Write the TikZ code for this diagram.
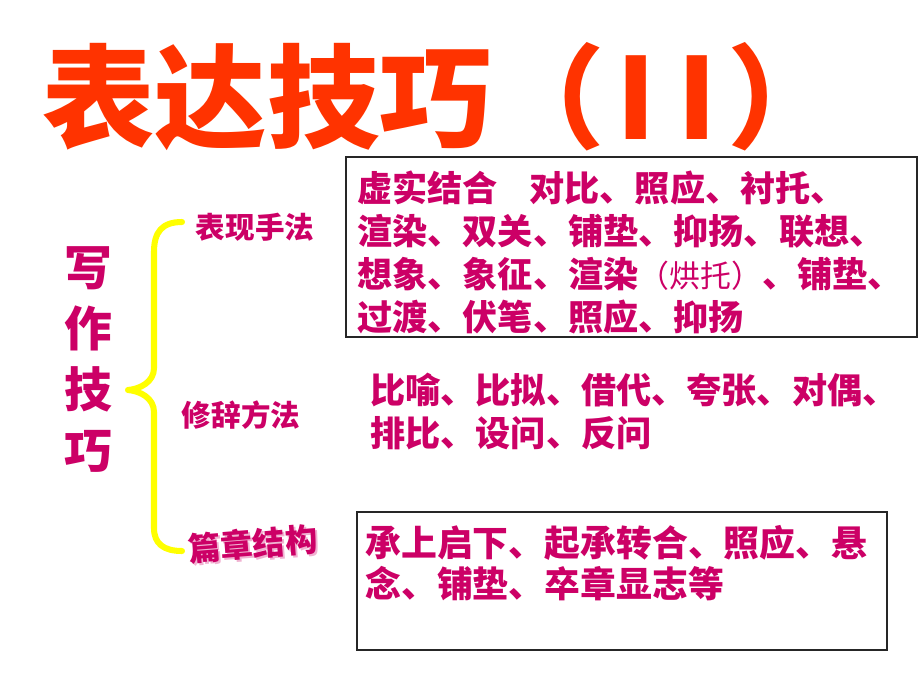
\documentclass[tikz,border=0pt]{standalone}
\usepackage{fontspec}
\newfontfamily\cjk{Noto Sans CJK SC}
\usetikzlibrary{positioning}
\definecolor{titlered}{HTML}{FF3300}
\definecolor{plum}{HTML}{CC0066}
\definecolor{braceyellow}{HTML}{FFFF00}

\tikzset{
  heading/.style={text=titlered, inner sep=0pt,
    font=\cjk\bfseries\fontsize{80}{82}\selectfont},
  sidelabel/.style={text=plum, inner sep=0pt,
    font=\cjk\bfseries\fontsize{21}{25}\selectfont},
  vertlabel/.style={text=plum, inner sep=0pt, align=center,
    font=\cjk\bfseries\fontsize{34}{43.4}\selectfont},
  bodytext/.style={text=plum, inner sep=0pt, align=left, anchor=north west,
    font=\cjk\bfseries\fontsize{25}{30.6}\selectfont},
  textframe/.style={draw=black!85, line width=0.9pt},
  bracestroke/.style={draw=braceyellow, line width=4.3pt, line cap=round, line join=round},
}

\begin{document}
\begin{tikzpicture}[x=0.025cm, y=0.025cm]
        \useasboundingbox (0,0) rectangle (920,-690);
        % title
        \node[heading, anchor=base west] (title) at (42,-139)
          {表达技巧（\hspace{8pt}I\hspace{16pt}I\hspace{7pt}）};
        % left side
        \node[vertlabel] (writing) at (88,-360) {写\\作\\技\\巧};
        \draw[bracestroke] (182,-222) .. controls (162,-222) and (154,-232) .. (154,-252)
          -- (154,-368) .. controls (154,-382) and (140,-389) .. (128,-390)
          .. controls (140,-391) and (154,-398) .. (154,-412)
          -- (154,-528) .. controls (154,-544) and (164,-551) .. (182,-551);
        \node[sidelabel] (technique) at (255,-227) {表现手法};
        \node[sidelabel] (rhetoric) at (241,-415) {修辞方法};
        \node[sidelabel, font=\cjk\bfseries\fontsize{23}{27}\selectfont, text=plum!30, rotate=4.5]
          (structureshadow) at (255,-546) {篇章结构};
        \node[sidelabel, font=\cjk\bfseries\fontsize{23}{27}\selectfont, rotate=4.5]
          (structure) at (253,-544) {篇章结构};
        % right side
        \node[bodytext] (techniquelist) at (357,-171)
          {虚实结合\hspace{0.9em}对比、照应、衬托、\\
           渲染、双关、铺垫、抑扬、联想、\\
           想象、象征、渲染{\mdseries\fontsize{22}{30.6}\selectfont （烘托）}、铺垫、\\
           过渡、伏笔、照应、抑扬};
        \draw[textframe] (346,-157) rectangle (917,-337);
        \node[bodytext] (rhetoriclist) at (370,-373)
          {比喻、比拟、借代、夸张、对偶、\\
           排比、设问、反问};
        \node[bodytext, font=\cjk\bfseries\fontsize{25.5}{29.2}\selectfont] (structurelist) at (365,-525)
          {承上启下、起承转合、照应、悬\\
           念、铺垫、卒章显志等};
        \draw[textframe] (357,-512) rectangle (887,-650);
\end{tikzpicture}
\end{document}
